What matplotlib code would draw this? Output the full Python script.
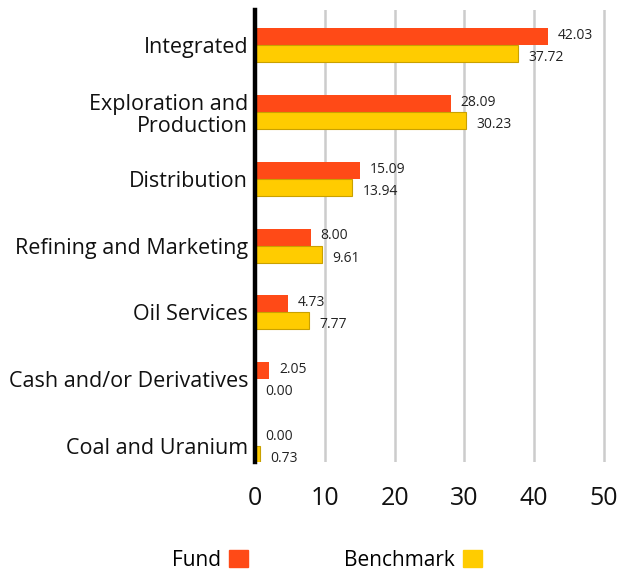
import numpy as np
import matplotlib.pyplot as plt
from matplotlib.patches import Patch

# Datos del gráfico
categorias = ['Integrated', 'Exploration and\nProduction', 'Distribution',
              'Refining and Marketing', 'Oil Services', 'Cash and/or Derivatives',
              'Coal and Uranium']
fund = [42.03, 28.09, 15.09, 8.00, 4.73, 2.05, 0.00]
benchmark = [37.72, 30.23, 13.94, 9.61, 7.77, 0.00, 0.73]
xticks = [0, 10, 20, 30, 40, 50]

plt.rcParams['font.family'] = ['Open Sans', 'DejaVu Sans']

col_fund = '#FF4A17'
col_bench = '#FFCC00'
edge_bench = '#C9A100'

fig = plt.figure(figsize=(6.17, 5.74), dpi=100)
ax = fig.add_axes([255 / 617, 1 - 462 / 574, 356 / 617, 452 / 574])

y = np.arange(len(categorias))
h = 0.255
ax.barh(y - h / 2, fund, height=h, color=col_fund, zorder=3)
ax.barh(y + h / 2, benchmark, height=h, color=col_bench, edgecolor=edge_bench,
        linewidth=0.8, zorder=3)

# Etiquetas de valores
for yi, v in zip(y, fund):
    ax.text(v + 1.4, yi - h / 2 - 0.02, f'{v:.2f}', va='center', ha='left',
            fontsize=10, color='#222222')
for yi, v in zip(y, benchmark):
    ax.text(v + 1.5, yi + h / 2 + 0.06, f'{v:.2f}', va='center', ha='left',
            fontsize=10, color='#222222')

ax.set_xlim(0, 51)
ax.set_ylim(6.24, -0.53)
ax.set_yticks(y)
ax.set_yticklabels(categorias, fontsize=15.5, color='#111111', linespacing=1.1)
ax.set_xticks(xticks)
ax.set_xticklabels([str(t) for t in xticks], fontsize=18, color='#111111')
ax.tick_params(axis='both', length=0)
ax.tick_params(axis='x', pad=17)
ax.tick_params(axis='y', pad=5)

for t in xticks[1:]:
    ax.axvline(t, color='#cccccc', linewidth=1.8, zorder=1)

for s in ['top', 'right', 'bottom']:
    ax.spines[s].set_visible(False)
ax.spines['left'].set_linewidth(3.2)
ax.spines['left'].set_color('black')
ax.spines['left'].set_zorder(4)

handles = [Patch(color=col_fund, label='Fund'), Patch(color=col_bench, label='Benchmark')]
fig.legend(handles=handles, loc='center', bbox_to_anchor=(327 / 617, 1 - 560 / 574),
           ncol=2, frameon=False, markerfirst=False, fontsize=15,
           handlelength=0.9, handleheight=0.9, handletextpad=0.4, columnspacing=4.6)

fig.savefig('out.png', dpi=100)
